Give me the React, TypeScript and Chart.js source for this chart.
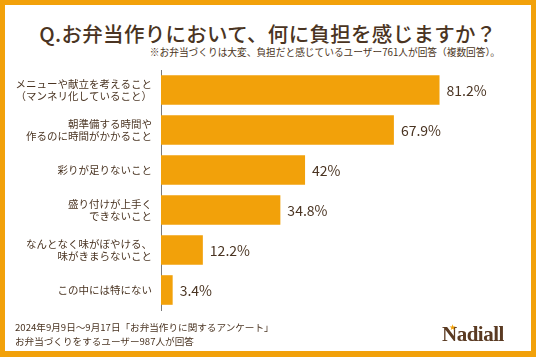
import React, { useEffect, useRef } from "react";
import { Chart, registerables } from "chart.js";

Chart.register(...registerables);

const categories: string[][] = [
  ["メニューや献立を考えること", "（マンネリ化していること）"],
  ["朝準備する時間や", "作るのに時間がかかること"],
  ["彩りが足りないこと"],
  ["盛り付けが上手く", "できないこと"],
  ["なんとなく味がぼやける、", "味がきまらないこと"],
  ["この中には特にない"],
];
const values: number[] = [81.2, 67.9, 42, 34.8, 12.2, 3.4];
const valueLabels: string[] = ["81.2%", "67.9%", "42%", "34.8%", "12.2%", "3.4%"];

const titleText = "Q.お弁当作りにおいて、何に負担を感じますか？";
const subtitleText = "※お弁当づくりは大変、負担だと感じているユーザー761人が回答（複数回答）。";
const footer1 = "2024年9月9日～9月17日「お弁当作りに関するアンケート」";
const footer2 = "お弁当づくりをするユーザー987人が回答";

const ORANGE = "#f2a10a";
const BROWN = "#4a3422";
const FONT = "'Noto Sans CJK JP', 'Noto Sans', sans-serif";

const labelPlugin = {
  id: "valueLabels",
  afterDatasetsDraw(chart: any) {
    const ctx = chart.ctx;
    const meta = chart.getDatasetMeta(0);
    ctx.save();
    ctx.fillStyle = BROWN;
    ctx.font = `400 14px ${FONT}`;
    ctx.textAlign = "left";
    ctx.textBaseline = "middle";
    meta.data.forEach((bar: any, i: number) => {
      ctx.fillText(valueLabels[i], bar.x + 7, bar.y + 1);
    });
    ctx.restore();
  },
};

export default function App() {
  const ref = useRef<HTMLCanvasElement>(null);
  useEffect(() => {
    if (!ref.current) return;
    const chart = new Chart(ref.current, {
      type: "bar",
      data: {
        labels: categories,
        datasets: [
          {
            data: values,
            backgroundColor: ORANGE,
            borderWidth: 0,
            barPercentage: 0.74,
            categoryPercentage: 1,
          },
        ],
      },
      options: {
        indexAxis: "y",
        responsive: false,
        animation: false,
        devicePixelRatio: 1,
        layout: { padding: { left: 0, right: 32, top: 70, bottom: 47 } },
        plugins: {
          legend: { display: false },
          tooltip: { enabled: false },
          title: { display: false },
        },
        scales: {
          x: {
            display: false,
            min: 0,
            max: 100,
          },
          y: {
            afterFit(scale: any) {
              scale.width = 161;
            },
            grid: { display: false, drawTicks: false },
            border: { display: true, color: "#7a7a7a", width: 1 },
            ticks: {
              color: BROWN,
              padding: 9,
              font: { family: FONT, size: 10.5, lineHeight: 1.12 },
            },
          },
        },
      },
      plugins: [labelPlugin],
    });
    return () => chart.destroy();
  }, []);

  return (
    <div
      style={{
        position: "fixed",
        left: 0,
        top: 0,
        width: 536,
        height: 357,
        background: "#ffffff",
        fontFamily: FONT,
        color: BROWN,
        overflow: "hidden",
      }}
    >
      <div
        style={{
          position: "absolute",
          left: 0,
          top: 0,
          width: 536,
          height: 357,
          boxSizing: "border-box",
          borderStyle: "solid",
          borderColor: ORANGE,
          borderWidth: "5px 5px 6px 5px",
        }}
      />
      <div
        style={{
          position: "absolute",
          left: 0,
          top: 20,
          width: 536,
          textAlign: "center",
          fontSize: 20.5,
          fontWeight: 500,
          lineHeight: "26px",
          letterSpacing: "0.3px",
        }}
      >
        {titleText}
      </div>
      <div
        style={{
          position: "absolute",
          right: 36,
          top: 45,
          fontSize: 9.7,
          lineHeight: "14px",
          whiteSpace: "nowrap",
        }}
      >
        {subtitleText}
      </div>
      <canvas
        ref={ref}
        width={536}
        height={357}
        style={{ position: "absolute", left: 0, top: 0, width: 536, height: 357 }}
      />
      <div
        style={{
          position: "absolute",
          left: 15,
          top: 321,
          fontSize: 9.6,
          lineHeight: "13.5px",
          whiteSpace: "nowrap",
        }}
      >
        <div>{footer1}</div>
        <div>{footer2}</div>
      </div>
      <div
        style={{
          position: "absolute",
          left: 442,
          top: 321,
          fontFamily: "'Liberation Serif', serif",
          fontWeight: 700,
          fontSize: 21,
          lineHeight: "26px",
          color: "#5a3a22",
          letterSpacing: "-0.5px",
        }}
      >
        <span style={{ position: "relative" }}>
          <span
            style={{
              position: "absolute",
              left: 7,
              top: -7,
              fontSize: 8,
              color: ORANGE,
              fontFamily: "'DejaVu Sans', sans-serif",
            }}
          >
            ★
          </span>
          Nadiall
        </span>
      </div>
    </div>
  );
}
